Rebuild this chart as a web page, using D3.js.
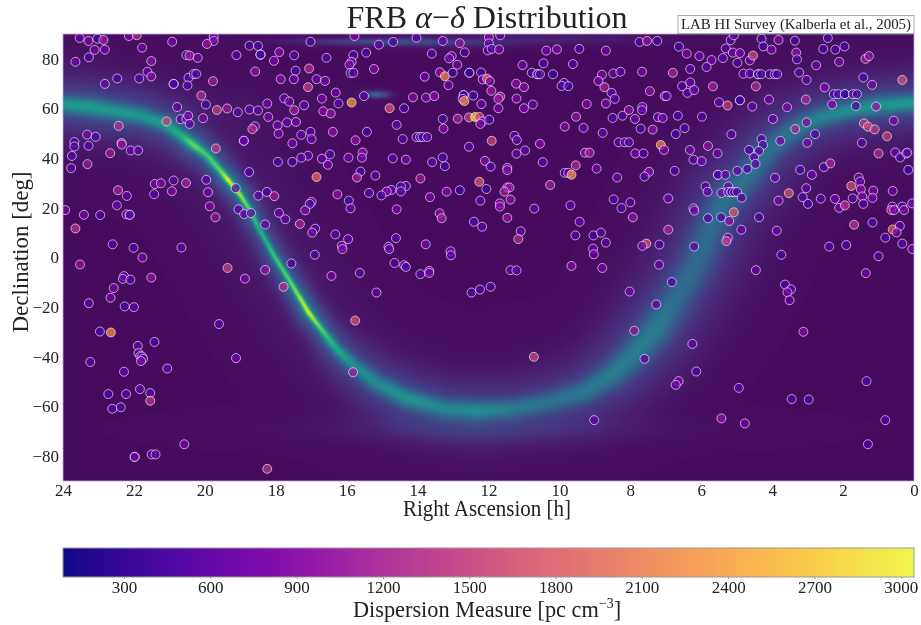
<!DOCTYPE html>
<html><head><meta charset="utf-8">
<script src="https://cdnjs.cloudflare.com/ajax/libs/d3/7.8.5/d3.min.js"></script>
<style>
html,body{margin:0;padding:0;background:#fff;overflow:hidden}
#wrap{position:relative;width:921px;height:625px}
canvas{position:absolute}
svg{position:absolute;left:0;top:0}
text{font-family:"Liberation Serif",serif;fill:#222}
</style></head><body><div id="wrap"><canvas id="hi"></canvas><svg id="chart" width="921" height="625"></svg></div>
<script>
// Galactic-plane HI ridge
const ridgeRA   =[24,23.25,22.5,21.75,21.1,20.7,20.33,19.95,19.58,19.35,19,18.73,18.5,18.26,18.03,17.6,17.08,16.73,16.26,15.8,15.14,14.3,13.26,12.3,11.29,10.25,9.3,8.53,7.97,7.3,6.75,6.18,5.71,5.34,4.77,4.12,3.46,2.7,1.95,1.02,0];
const ridgeDec  =[61.6,60.6,58.9,56.9,53.5,49.5,45.4,41.4,35.3,31.3,25.2,19.1,12.4,6.3,0.3,-9.5,-22,-28.6,-37.3,-43.4,-50.7,-56.8,-60.8,-61.7,-60.8,-58.1,-54.1,-47.4,-40,-29.3,-17.2,-3.8,12.4,23.2,31.3,43.4,50.8,56.2,58.9,61.2,62.3];
const ridgePeak =[.42,.45,.42,.42,.45,.5,.66,.6,.64,.84,.74,.62,.52,.52,.58,.64,.82,.64,.48,.38,.37,.41,.35,.37,.3,.28,.3,.32,.32,.32,.26,.25,.25,.27,.27,.27,.29,.34,.38,.42,.42];
const ridgeSigma=[2.4,2.4,2.4,2.2,2,1.7,1.4,1.3,1.1,.9,.9,.9,.9,.9,.9,.9,.9,1,1.5,2,2.4,2.5,2.6,2.6,2.7,2.9,3.2,3.6,4,4.4,4.8,4.8,4.8,4.6,4.2,3.8,3.4,2.8,2.4,2.4,2.4];
// small HI patches: right ascension, declination, sigma RA, sigma Dec, peak
const hiPatches=[[15.16,65.6,.25,1,.28],[15,87,1.6,1,.16],[13.5,86,1.5,1.2,.07],[10.5,88,2,1.5,.06],[12,-69,3.5,4,.05],[19,60,1.5,6,.015]];

// FRB catalogue: [right ascension h, declination deg, dispersion measure]
const frbNorthWest=[[23.53,88.4,700],[23.28,87.2,850],[23.03,88.1,450],[22.86,87.6,1100],[23.11,83.6,800],[22.82,83.7,750],[22.14,89.2,800],[21.92,89.5,1300],[21.77,84.5,750],[20.92,86.9,800],[19.75,88.9,800],[19.75,87.2,800],[19.94,86,1000],[18.74,85.3,450],[18.5,85.2,450],[23.65,78.8,700],[23.27,80.6,500],[21.51,79.1,1000],[20.52,81.5,600],[20.43,81.3,1100],[20.2,80.4,800],[19.11,81.5,550],[18.43,81.7,400],[18.43,81.7,400],[18.43,81.7,400],[17.9,82.7,900],[18.05,79.2,800],[17.48,81.4,600],[17.44,75.2,500],[21.62,74.8,600],[21.51,72.9,900],[21.85,72.1,450],[22.47,72.1,500],[22.82,69.9,750],[20.88,69.9,500],[20.88,69.9,500],[20.46,72.4,600],[20.31,73.9,500],[20.24,73.9,500],[19.77,71,1100],[20.49,69.3,500],[18.58,74.9,1000],[17.86,71.8,900],[17.49,71.8,800],[20.1,65.2,1300],[20.78,60.6,600],[19.97,61.6,450],[19.66,59.4,1500],[19.37,60,1100],[19.07,58.5,550],[18.74,59.6,600],[18.5,59.2,600],[18.24,62,750],[17.76,64.1,600],[17.62,62.8,700],[17.48,59.3,1100]];
const frbWest=[[21.08,54.8,1500],[20.68,55.7,600],[20.52,55.8,600],[20.47,57.1,750],[20.43,53.8,550],[20.05,56.1,800],[18.21,56.6,750],[17.95,53.2,750],[17.68,54.4,650],[17.43,54.6,800],[18.59,52.8,700],[18.66,51.7,1300],[17.92,49.9,750],[22.43,53,1300],[23.32,49.5,800],[23.08,48.6,500],[23.68,46.5,550],[23.68,44.7,550],[23.28,45,550],[22.35,46.1,1300],[22.34,45.5,800],[22.09,43.1,650],[21.88,43.1,650],[22.67,42,1100],[18.9,47,600],[18.9,47,600],[19.69,43.9,1400],[17.53,46,800],[23.75,40.9,600],[23.77,36,650],[23.31,37.6,1100],[17.94,38.5,500],[17.53,38.5,500],[21.41,29.6,800],[21.24,29.9,800],[20.88,31,550],[20.53,30,1200],[19.96,31.3,600],[18.75,34.4,500],[22.45,27.1,1200],[22.2,24.8,650],[21.43,25.5,500],[20.93,26.7,900],[19.91,26.3,700],[19.13,27.9,500],[18.49,24.9,600],[18.25,26.4,500],[18.04,24.7,1100],[23.94,19.1,800],[22.48,21,700],[23.41,17.2,800],[22.95,17.1,500],[22.21,17.4,700],[22.12,17.2,600],[22.12,17.2,600],[19.86,20.6,800],[19.05,19.4,600],[18.89,17.5,600],[18.7,17.9,550],[17.91,18,700],[17.73,15.4,700],[19.7,16.2,1000],[18.3,13.3,650],[23.65,11.7,1400],[22.6,5.3,500],[22.01,3.9,500],[20.66,4,600],[21.76,0,750]];
const frbCentreNorth=[[17.02,86.9,500],[15.78,89.2,800],[15.09,85.7,600],[14.69,86.8,550],[14.03,88.5,600],[13.29,87.2,700],[12.81,86.3,1000],[11.99,88.7,900],[11.67,89.5,550],[11.99,86.2,600],[12.02,83.4,500],[11.91,84,500],[11.7,83.8,800],[13.6,82.1,550],[12.67,82.6,500],[13.04,81.1,600],[13.11,80.2,750],[16.57,80.4,600],[15.45,82.5,500],[15.81,81.5,500],[15.86,78.8,700],[15.92,77.7,800],[15.89,74.3,500],[15.81,74.4,500],[15.23,75.9,900],[17.06,76.1,1300],[12.88,77.6,750],[10.37,83.3,700],[10.07,83.8,900],[9.44,84,450],[8.69,83.3,700],[10.45,78.2,550],[9.62,77.9,450],[11.04,77.5,800],[13.37,74.6,1000],[13.23,73,2200],[13.01,74.4,400],[12.54,74.4,350],[12.54,74.4,350],[12.21,74.5,450],[13.8,72.8,750],[10.78,74.4,500],[10.62,73.8,400],[10.62,73.8,400],[10.55,73.8,450],[10.18,73.8,350],[12.16,71.7,700],[12.04,72,1900],[11.96,71,800],[16.85,71.8,700],[16.61,71.1,800],[13.13,69.4,700],[9.87,70.3,500],[9.94,69.1,400],[9.75,69,450],[8.8,73.6,800],[8.9,71.1,800],[11.22,70,950],[11,68.6,900],[8.73,68.6,1200],[17.09,68.6,1500],[16.31,66.4,750],[11.92,67.1,1100],[16.7,64,800],[15.51,65,550],[14.13,64.5,900],[13.76,64.4,800],[13.53,65,900],[12.7,65.4,350],[12.7,65.4,350],[12.43,65.2,500],[11.67,64.8,1200],[11.72,63.9,1000],[12.73,63.9,700],[12.68,63,2200],[11.21,64,900],[15.86,62.4,2400],[12.2,61.8,650],[16.23,62,550],[17.2,61.3,650],[14.79,60.1,1700],[14.38,60.1,500],[11.72,60.1,750],[11,60.1,800],[10.75,61.6,600],[9.23,61.8,900],[8.69,62,800]];
const frbCentreMid=[[16.66,58.9,900],[16.45,58,1000],[13.29,55.8,450],[12.87,55.9,1200],[12.55,56.4,1500],[12.38,56.6,2800],[12.26,56.6,1600],[12.17,54.8,800],[12.23,53.8,750],[11.98,55.5,500],[9.53,56.7,1000],[14.59,53.4,600],[13.27,51.9,900],[9.85,52.7,900],[9.32,52.2,700],[16.39,50.6,1000],[17.02,50.6,550],[17.28,49.4,600],[15.43,50.6,500],[16.99,47.7,700],[15.75,47.2,1000],[14.42,47.7,550],[14.03,48.5,600],[13.93,48.5,500],[13.86,48.5,500],[13.73,48.5,650],[8.78,50.2,650],[11.91,47,1600],[11.27,49,500],[11.2,47.3,550],[10.55,45.8,900],[12.55,44.6,600],[15.55,42.3,1000],[16.47,41.5,500],[17.09,41,550],[17.28,40.2,600],[16.7,39.8,650],[16.53,37.3,750],[15.95,40.2,750],[15.57,40.2,800],[14.7,39.9,550],[14.33,39.4,800],[13.59,38.4,650],[13.29,40.3,550],[13.23,36.8,450],[10.97,43.1,600],[11.21,41.8,750],[9.28,42.2,1000],[9.15,42.2,1100],[12.1,38.9,900],[11.94,36.6,600],[11.47,36.1,750],[11.47,35.2,800],[10.47,38.4,600],[9.54,37.1,1300],[8.95,35.8,750]];
const frbCentreLow=[[16.85,32.4,2000],[15.61,34.6,500],[15.71,32.2,1200],[15.19,33,600],[13.92,31.8,1100],[12.26,30.5,1800],[9.85,34.1,500],[9.75,34.1,600],[9.66,33.3,2300],[14.33,28.8,600],[14.47,28.6,500],[14.74,27.2,750],[14.87,26.6,800],[14.47,26.6,600],[15.02,25,500],[15.37,26,600],[16.26,25.4,1000],[15.94,22.9,500],[13.18,26.5,900],[12.81,27.1,350],[12.06,27.6,400],[11.47,28.2,1000],[11.41,28.2,1000],[11.55,26.5,1100],[10.26,29.2,1200],[13.65,24.3,800],[11.38,23.3,1000],[12.23,22.9,600],[16.99,22.4,700],[17.04,21.6,450],[17.17,19,900],[15.89,19.8,700],[14.59,19.4,800],[11.68,21.8,750],[11.68,20.5,900],[10.71,19.7,650],[9.69,21,650],[17.32,13.5,1200],[13.38,17.8,950],[13.32,15.8,1100],[11.47,16,1000],[9.43,14.4,650],[16.89,11.6,500],[16.97,10,750],[12.41,14.4,600],[12.18,12.4,600],[16.32,9.3,600],[15.96,7.4,700],[16.14,4.7,750],[11.09,10.6,700],[11.16,7.4,1300],[9.55,8.9,600],[9.04,8.9,500],[8.83,10,550],[8.69,6,600],[14.61,7.8,600],[14.82,4.3,550],[13.77,5.3,800],[16.9,1.1,500],[13.07,2.5,700],[13.06,.9,600],[9.05,3.6,700],[9.03,1.3,650]];
const frbEastNorth=[[7.74,86.8,500],[7.53,87.2,950],[7.24,87.2,450],[6.63,84.9,450],[6.41,82.1,800],[6.05,81.1,700],[5.71,79.5,800],[5.39,80.3,600],[5.31,84.2,600],[5.17,87.5,600],[5.08,89.5,550],[5.11,82.5,800],[4.91,82.3,750],[4.98,78.4,500],[4.63,79.4,600],[4.54,81.3,1600],[4.3,88.1,550],[4.25,85,450],[4.02,83.7,800],[3.82,87.6,900],[3.36,87.3,500],[3.32,82.5,1000],[3.3,79.8,500],[2.56,84,500],[2.43,88.4,500],[2.22,83.7,450],[1.96,85,500],[2.11,78.8,800],[2.76,77.4,700],[1.37,80,1100],[1.27,81.1,1000],[8.48,74.1,700],[8.28,74.8,550],[7.67,74.8,800],[6.8,74.4,1200],[6.31,75.9,650],[5.85,76.7,600],[4.81,74,500],[4.63,74.1,550],[4.4,73.8,400],[4.4,73.8,400],[4.31,73.8,350],[4.07,73.8,450],[3.93,73.8,500],[3.86,73.8,500],[3.24,74.5,600],[3.03,71.5,550],[1.43,72.5,500],[1.18,69.5,800],[.33,71.5,1700],[6.54,69,500],[6.31,70.5,700],[6.39,66.3,550],[6.2,67.4,700],[5.67,68.9,1200],[4.46,68.9,1300],[2.52,68.5,800],[2.26,65.8,500],[2.14,65.8,500],[1.95,65.8,350],[1.95,65.8,350],[1.72,65.8,450],[1.61,65.8,500],[7.03,65,800],[6.98,65,500],[7.45,67,950],[8.53,66.3,600],[8.44,63.9,500],[5.5,62.5,600],[5.26,61.2,1500],[4.91,63.3,350],[4.91,63.3,350],[4.56,60.8,600],[4.09,63.6,700],[3.58,60.5,800],[3.05,63.6,1200],[2.31,61.6,800],[1.64,61,500],[1.07,60.8,1000]];
const frbEastMid=[[8.04,59.4,1000],[7.66,60.6,700],[7.67,59.3,600],[8.22,57.1,550],[7.87,55.8,750],[7.22,56.5,700],[7.09,56.2,700],[6.66,57.1,500],[5.98,56.7,500],[8.5,56.2,500],[3.98,55.8,700],[.57,55.1,800],[7.71,51.9,500],[7.37,51.5,1000],[6.72,49.7,500],[6.47,52.1,500],[5.15,49.6,600],[3.35,51.7,1200],[3.03,54.4,900],[2.79,49.7,500],[1.41,54,1400],[1.3,52.7,1600],[1.11,51.6,1400],[.76,48.8,1500],[8.33,46.4,500],[8.16,46.4,400],[8.04,46.4,500],[7.14,45.3,2200],[7.05,43.3,800],[5.81,44.9,1000],[6.32,43.3,750],[5.54,41.9,700],[4.3,47.7,500],[4.26,45.3,500],[4.65,43.3,500],[4.37,42.9,500],[4.51,40.4,600],[3.77,47,750],[3.01,46.2,800],[1.47,46.2,500],[7.86,41.9,800],[7.63,41.9,500],[6.22,39.4,600],[5.99,38.8,700],[4.47,37.7,500],[2.54,36.4,500],[2.36,37.9,1200],[1,41.9,1300],[.53,42.3,600],[.39,40.3,500],[.22,41.9,600],[.19,42.2,600],[7.47,34.5,1000],[7.6,32.6,550],[8.37,32.2,700],[6.75,34.9,500],[5.53,33.3,400],[5.53,33.3,400],[5.32,33.3,600],[4.98,34.9,600],[4.7,35.7,500],[3.92,32.1,700],[3.21,35.3,500],[2.88,33.3,650],[.16,35.3,500]];
const frbEastLow=[[5.88,28.6,500],[5.82,26.5,650],[5.24,28.6,600],[5.43,26,800],[5.24,26.4,500],[5.15,26.4,350],[5.15,26.4,350],[5.07,26.3,400],[4.99,26.4,500],[4.86,24.1,500],[3.53,25.9,1700],[3.04,27.9,600],[3.14,24.3,500],[2.99,21.6,500],[2.63,23.7,600],[2.23,23.6,700],[1.77,28.8,1700],[1.56,32.2,800],[1.52,30.6,650],[1.5,27.5,900],[1.15,26.9,800],[1.46,24.6,800],[1.73,23.8,600],[1.17,24,800],[1.43,21.6,500],[.6,26.8,700],[8.47,23.4,500],[8,22.2,550],[8.25,19.9,550],[6.93,23.8,700],[6.22,19.8,600],[6.2,18.9,700],[3.82,22.9,800],[2.11,20,750],[1.95,21,1300],[.61,20.5,600],[.64,19.1,1200],[.56,19.1,800],[.33,20.5,550],[.28,19.1,750],[.05,21.8,800],[7.93,16.2,1000],[5.81,15.8,500],[5.44,16.2,500],[5.08,18.2,1700],[5.21,14.7,900],[4.37,16.2,450],[6.93,11.2,1200],[4.87,11.2,700],[3.87,10.8,650],[1.69,13.2,1400],[1.17,14.1,600],[.6,11.3,1800],[.4,12.7,600],[.49,10.1,800],[.81,8,550],[.33,5.6,600],[.05,3.4,800],[7.55,5.6,1700],[7.66,4.7,750],[7.18,5.2,500],[6.2,4.4,600],[5.25,8,800],[5.29,6.6,1400],[3.74,1.1,500],[2.39,4.4,550],[1.91,5,500],[1,.5,500]];
const frbSouthWest=[[23.52,-2.8,1000],[19.36,-4.2,1500],[18.3,-5,1000],[17.56,-2.4,500],[22.28,-7.5,550],[22.31,-8.6,650],[22.1,-8.9,500],[21.51,-8.1,1000],[18.87,-8.5,800],[17.78,-11.8,1300],[22.57,-12.3,750],[22.66,-16.2,800],[23.27,-18.4,650],[22.26,-19.7,400],[22,-20,650],[19.6,-26.8,650],[22.96,-29.8,500],[22.65,-30.2,2300],[21.42,-34,500],[21.89,-35.6,700],[21.87,-38.5,600],[21.82,-39.7,500],[21.77,-39.9,500],[21.74,-40.8,500],[21.8,-41.7,750],[19.12,-40.5,700],[23.23,-42.1,550],[21.06,-44.7,700],[22.28,-46,600],[21.83,-53,600],[22.72,-55,500],[22.22,-55,600],[21.54,-54.6,600],[21.54,-57.7,1400],[22.61,-60.9,600],[22.37,-60.3,600],[20.58,-75.2,800],[21.5,-79.3,650],[21.39,-79.3,600],[21.98,-80.3,700],[21.98,-80.3,700],[18.24,-85.1,1400]];
const frbSouthCentre=[[16.43,-7.4,800],[15.63,-6.2,600],[15.16,-14.1,650],[14.65,-2.2,500],[14.38,-3.1,500],[14.33,-3.8,500],[13.92,-6.7,550],[13.67,-5.4,800],[13.67,-6.2,700],[9.66,-3.4,900],[8.79,-4.2,750],[11.38,-5.1,600],[11.21,-5.2,500],[12.48,-14.1,550],[12.24,-12.9,550],[11.94,-11.8,550],[15.76,-25.4,1700],[15.82,-46.2,1100],[10.72,-40,1600],[9.02,-65.5,650],[16.12,3.4,800],[14.8,3.4,700]];
const frbSouthEast=[[7.19,-2.9,600],[6.83,-9.9,500],[4.46,-5.1,700],[8.02,-13.7,700],[7.27,-18.9,700],[3.64,-10.9,450],[3.47,-12.8,600],[3.57,-14,750],[3.51,-17.2,650],[1.36,-6.3,750],[7.89,-29.5,1000],[3.12,-29.9,900],[6.25,-34.8,600],[7.6,-40.8,600],[6.14,-45.9,500],[6.64,-49.8,800],[6.72,-51.3,700],[4.94,-52.5,500],[1.34,-49.8,500],[3.45,-57,500],[2.97,-57.2,500],[5.43,-64.8,1000],[4.77,-66.8,700],[.81,-65.5,450],[1.3,-75.2,500]];
const raTicks=[24,22,20,18,16,14,12,10,8,6,4,2,0];
const decTicks=[80,60,40,20,0,-20,-40,-60,-80];
const dmTicks=[300,600,900,1200,1500,1800,2100,2400,2700,3000];
const dmRange=[88,3046];

const frbs=[...frbNorthWest,...frbWest,...frbCentreNorth,...frbCentreMid,...frbCentreLow,...frbEastNorth,...frbEastMid,...frbEastLow,...frbSouthWest,...frbSouthCentre,...frbSouthEast];

const P={l:63,r:914,t:34,b:481};
const x=d3.scaleLinear().domain([24,0]).range([P.l,P.r]);
const y=d3.scaleLinear().domain([90,-90]).range([P.t,P.b]);
const dmScale=d3.scaleSequential(d3.interpolatePlasma).domain(dmRange);
const dmX=d3.scaleLinear().domain(dmRange).range([P.l,P.r]);
const pxDeg=Math.abs(y(1)-y(0));
const fadedPlasma=t=>d3.interpolateRgb(d3.interpolatePlasma(t),'#e8e8e8')(.2*t);

// HI background
(function(){
  const cv=document.getElementById('hi');
  const W=P.r-P.l,H=P.b-P.t;
  cv.width=W;cv.height=H;cv.style.left=P.l+'px';cv.style.top=P.t+'px';
  const ctx=cv.getContext('2d');
  const img=ctx.createImageData(W,H);
  const xs=ridgeRA.map(x),ys=ridgeDec.map(y);
  const n=xs.length;
  const rgb=d3.range(512).map(i=>d3.rgb(d3.interpolateViridis(i/511)));
  let k=0;
  for(let j=0;j<H;j++){
    const py=j+P.t+.5;
    for(let i=0;i<W;i++){
      const px=i+P.l+.5;
      let best=1e12,bp=0,bs=1;
      for(let s=0;s<n-1;s++){
        const ax=xs[s],ay=ys[s],dx=xs[s+1]-ax,dy=ys[s+1]-ay;
        let u=((px-ax)*dx+(py-ay)*dy)/(dx*dx+dy*dy);
        u=u<0?0:u>1?1:u;
        const qx=ax+u*dx-px,qy=ay+u*dy-py,d=qx*qx+qy*qy;
        if(d<best){best=d;bp=ridgePeak[s]+u*(ridgePeak[s+1]-ridgePeak[s]);bs=(ridgeSigma[s]+u*(ridgeSigma[s+1]-ridgeSigma[s]))*pxDeg;}
      }
      const hs=2.4*bs+4;
      let v=.03+bp*.72*Math.exp(-best/(2*bs*bs))+bp*.36*Math.exp(-best/(2*hs*hs))+.04*Math.exp(-best/(2*34*34));
      const ra=x.invert(px),dec=y.invert(py);
      for(const p of hiPatches){const a=(ra-p[0])/p[2],b=(dec-p[1])/p[3];v+=p[4]*Math.exp(-.5*(a*a+b*b));}
      const c=rgb[Math.min(511,Math.round(v*511))];
      img.data[k++]=c.r;img.data[k++]=c.g;img.data[k++]=c.b;img.data[k++]=255;
    }
  }
  ctx.putImageData(img,0,0);
})();

const svg=d3.select('#chart');
const defs=svg.append('defs');
defs.append('clipPath').attr('id','plotClip').append('rect').attr('x',P.l).attr('y',P.t).attr('width',P.r-P.l).attr('height',P.b-P.t);

svg.append('g').attr('clip-path','url(#plotClip)').selectAll('circle').data(frbs).join('circle')
  .attr('cx',d=>x(d[0])).attr('cy',d=>y(d[1])).attr('r',4.5)
  .attr('fill',d=>dmScale(d[2])).attr('fill-opacity',.72)
  .attr('stroke','#fff').attr('stroke-opacity',.6).attr('stroke-width',1);

// spines
svg.append('rect').attr('x',P.l).attr('y',P.t).attr('width',P.r-P.l).attr('height',P.b-P.t)
  .attr('fill','none').attr('stroke','#b9a9cf').attr('stroke-opacity',.8).attr('stroke-width',1);

const tickFont=sel=>sel.selectAll('text').attr('font-size',17).attr('fill','#333').style('font-family','"Liberation Serif",serif');
const axX=svg.append('g').attr('transform',`translate(0,${P.b})`)
  .call(d3.axisBottom(x).tickValues(raTicks).tickSize(0).tickPadding(3).tickFormat(d3.format('d')));
axX.select('.domain').remove();
tickFont(axX);
const axY=svg.append('g').attr('transform',`translate(${P.l},0)`)
  .call(d3.axisLeft(y).tickValues(decTicks).tickSize(0).tickPadding(4).tickFormat(d=>d<0?'\u2212'+(-d):d));
axY.select('.domain').remove();
tickFont(axY);

// title
const title=svg.append('text').attr('x',487).attr('y',28).attr('text-anchor','middle').attr('font-size',32).attr('fill','#222');
title.append('tspan').text('FRB ');
title.append('tspan').attr('font-style','italic').text('\u03b1');
title.append('tspan').text('\u2212');
title.append('tspan').attr('font-style','italic').text('\u03b4');
title.append('tspan').text(' Distribution');

svg.append('rect').attr('x',678).attr('y',15.5).attr('width',236).attr('height',18).attr('fill','#fff').attr('stroke','#aaa').attr('stroke-width',1);
svg.append('text').attr('x',796).attr('y',29).attr('text-anchor','middle').attr('font-size',14).attr('fill','#444').attr('textLength',230).attr('lengthAdjust','spacingAndGlyphs').text('LAB HI Survey (Kalberla et al., 2005)');

svg.append('text').attr('x',487).attr('y',516).attr('text-anchor','middle').attr('font-size',24).attr('textLength',168).attr('lengthAdjust','spacingAndGlyphs').text('Right Ascension [h]');
svg.append('text').attr('transform','translate(28,252) rotate(-90)').attr('text-anchor','middle').attr('font-size',24).attr('textLength',161).attr('lengthAdjust','spacingAndGlyphs').text('Declination [deg]');

// colour bar
const grad=defs.append('linearGradient').attr('id','dmGrad');
grad.selectAll('stop').data(d3.range(0,1.0001,.02)).join('stop')
  .attr('offset',d=>d).attr('stop-color',d=>fadedPlasma(d));
svg.append('rect').attr('x',P.l).attr('y',548).attr('width',P.r-P.l).attr('height',29).attr('fill','url(#dmGrad)').attr('stroke','#999').attr('stroke-width',1);
const axC=svg.append('g').attr('transform','translate(0,577)')
  .call(d3.axisBottom(dmX).tickValues(dmTicks).tickSize(2).tickPadding(2).tickFormat(d3.format('d')));
axC.select('.domain').remove();
axC.selectAll('line').attr('stroke','#999');
tickFont(axC);
const cl=svg.append('text').attr('transform','translate(487,617) scale(.93,1)').attr('text-anchor','middle').attr('font-size',24);
cl.append('tspan').text('Dispersion Measure [pc cm');
cl.append('tspan').attr('font-size',15).attr('dy',-9).text('\u22123');
cl.append('tspan').attr('dy',9).text(']');
</script></body></html>
